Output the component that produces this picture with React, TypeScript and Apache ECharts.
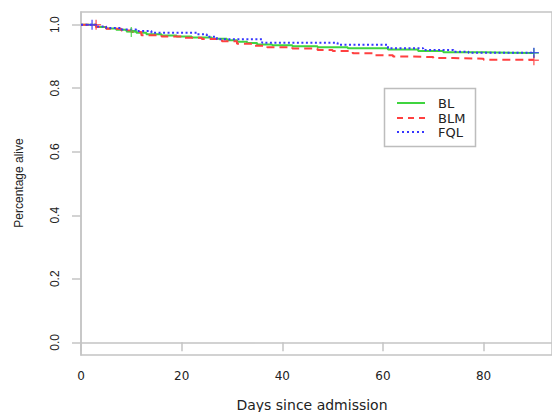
import React, { useEffect, useRef } from 'react';
import * as echarts from 'echarts';

// Kaplan-Meier survival estimates (days since admission -> proportion alive)
const blDays = [0, 3, 5, 7, 9, 11, 13, 16, 19, 22, 26, 29, 31, 33, 35, 38, 42, 47, 53, 61, 67, 72, 80, 90];
const blSurv = [1, 0.993, 0.988, 0.984, 0.98, 0.975, 0.97, 0.966, 0.963, 0.96, 0.956, 0.951, 0.946, 0.942, 0.938, 0.935, 0.932, 0.929, 0.926, 0.922, 0.917, 0.913, 0.911, 0.911];

const blmDays = [0, 3, 5, 8, 10, 12, 16, 20, 24, 28, 31, 34, 37, 42, 47, 50, 54, 58, 62, 65, 70, 74, 80, 90];
const blmSurv = [1, 0.993, 0.987, 0.982, 0.977, 0.967, 0.963, 0.959, 0.955, 0.948, 0.94, 0.934, 0.929, 0.925, 0.92, 0.917, 0.91, 0.904, 0.9, 0.898, 0.895, 0.893, 0.89, 0.888];

const fqlDays = [0, 3, 5, 8, 11, 14, 23, 25, 27, 36, 51, 61, 68, 74, 77, 90];
const fqlSurv = [1, 0.994, 0.99, 0.985, 0.98, 0.975, 0.97, 0.962, 0.954, 0.943, 0.937, 0.926, 0.92, 0.915, 0.912, 0.912];

// censoring marks
const blCensor = [[10, 0.977], [90, 0.911]];
const blmCensor = [[3, 1.0], [90, 0.888]];
const fqlCensor = [[2.2, 1.0], [90, 0.912]];

const seriesNames = ['BL', 'BLM', 'FQL'];
const xTicks = [0, 20, 40, 60, 80];
const yTicks = [0, 0.2, 0.4, 0.6, 0.8, 1.0];
const xTitle = 'Days since admission';
const yTitle = 'Percentage alive';

const GREEN = '#3fd43f';
const RED = '#ff4040';
const BLUE = '#3636ff';
const AXIS = '#c4c4c4';
const CROSS = 'path://M4.3,0H5.7V10H4.3Z M0,4.3H10V5.7H0Z';

export default function App() {
  const ref = useRef<HTMLDivElement>(null);
  useEffect(() => {
    const chart = echarts.init(ref.current!, null, { renderer: 'svg' });
    const pair = (d: number[], v: number[]) => d.map((x, i) => [x, v[i]]);
    const lineSeries = (name: string, data: number[][], color: string, type: any) => ({
      name,
      type: 'line',
      step: 'end',
      data,
      symbol: 'none',
      showSymbol: false,
      silent: true,
      lineStyle: { color, width: 2, type },
      z: 3,
    });
    const censorSeries = (data: number[][], color: string) => ({
      type: 'scatter',
      data,
      symbol: CROSS,
      symbolSize: 10,
      itemStyle: { color },
      silent: true,
      z: 4,
    });
    const legendY = [103, 118, 132];
    const legendStyles = [
      { color: GREEN, dash: null },
      { color: RED, dash: [6, 5] },
      { color: BLUE, dash: [2, 3] },
    ];
    const legendGraphics: any[] = [
      {
        type: 'rect',
        shape: { x: 384.5, y: 88.5, width: 91, height: 58 },
        style: { fill: '#fff', stroke: '#bdbdbd', lineWidth: 1.5 },
        z: 10,
      },
    ];
    seriesNames.forEach((n, i) => {
      legendGraphics.push({
        type: 'line',
        shape: { x1: 397, y1: legendY[i], x2: 425, y2: legendY[i] },
        style: { stroke: legendStyles[i].color, lineWidth: 2, lineDash: legendStyles[i].dash },
        z: 11,
      });
      legendGraphics.push({
        type: 'text',
        x: 438,
        y: legendY[i],
        style: { text: n, fill: '#222', font: '13px "DejaVu Sans"', verticalAlign: 'middle', align: 'left' },
        z: 11,
      });
    });
    chart.setOption({
      animation: false,
      backgroundColor: '#fff',
      grid: { left: 81, top: 12, right: -3, bottom: 57, show: true, borderColor: AXIS, borderWidth: 1.5 },
      xAxis: {
        type: 'value',
        min: 0,
        max: 93.6,
        axisLine: { show: true, lineStyle: { color: AXIS, width: 1.5 } },
        axisTick: { show: true, length: 9, customValues: xTicks, lineStyle: { color: AXIS, width: 1.5 } },
        axisLabel: { customValues: xTicks, fontSize: 12, fontFamily: 'DejaVu Sans', color: '#222', margin: 15 },
        splitLine: { show: false },
      },
      yAxis: {
        type: 'value',
        min: -0.04,
        max: 1.04,
        axisLine: { show: true, lineStyle: { color: AXIS, width: 1.5 } },
        axisTick: { show: true, length: 9, customValues: yTicks, lineStyle: { color: AXIS, width: 1.5 } },
        axisLabel: {
          customValues: yTicks,
          rotate: 90,
          fontSize: 12,
          fontFamily: 'Liberation Sans',
          color: '#222',
          margin: 20,
          formatter: (v: number) => v.toFixed(1),
        },
        splitLine: { show: false },
      },
      graphic: [
        {
          type: 'text',
          x: 312,
          y: 405,
          style: { text: xTitle, fill: '#222', font: '14px "DejaVu Sans"', align: 'center', verticalAlign: 'middle' },
        },
        {
          type: 'text',
          x: 19,
          y: 183,
          rotation: Math.PI / 2,
          style: { text: yTitle, fill: '#222', font: '12px "Liberation Sans"', align: 'center', verticalAlign: 'middle' },
        },
        ...legendGraphics,
      ],
      series: [
        lineSeries('BL', pair(blDays, blSurv), GREEN, 'solid'),
        lineSeries('BLM', pair(blmDays, blmSurv), RED, [8, 5]),
        lineSeries('FQL', pair(fqlDays, fqlSurv), BLUE, [2, 2.5]),
        censorSeries(blCensor, GREEN),
        censorSeries(blmCensor, RED),
        censorSeries(fqlCensor, BLUE),
      ],
    });
    return () => chart.dispose();
  }, []);
  return (
    <div
      ref={ref}
      style={{ position: 'fixed', left: 0, top: 0, width: 552, height: 412, background: '#fff' }}
    />
  );
}
